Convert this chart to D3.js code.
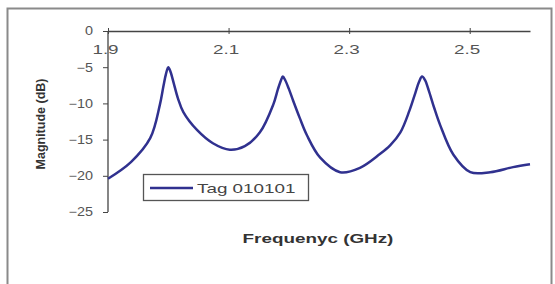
<!DOCTYPE html>
<html>
<head>
<meta charset="utf-8">
<script src="https://cdn.jsdelivr.net/npm/d3@7"></script>
<style>
  body { margin: 0; background: #fff; }
  svg { display: block; font-family: "Liberation Sans", Arial, sans-serif; }
</style>
</head>
<body>
<script>
const width = 555;
const height = 284;

// Data
const freq = [1.9, 1.938, 1.970, 1.986, 1.992, 1.996, 2.0, 2.004, 2.009, 2.016, 2.025, 2.048, 2.074, 2.102, 2.127,
  2.152, 2.174, 2.182, 2.187, 2.19, 2.194, 2.200, 2.207, 2.218, 2.230, 2.252, 2.285, 2.318, 2.351, 2.368, 2.385,
  2.400, 2.410, 2.416, 2.421, 2.426, 2.432, 2.441, 2.451, 2.473, 2.501, 2.534, 2.572, 2.6];
const magnitude = [-20.4, -18.1, -14.8, -10.2, -7.6, -6.0, -5.0, -5.7, -7.2, -9.3, -11.2, -13.7, -15.5, -16.4, -15.9,
  -14.0, -10.2, -8.0, -6.8, -6.3, -6.8, -8.0, -9.6, -12.0, -14.4, -17.5, -19.5, -18.9, -17.0, -15.8, -14.0,
  -11.0, -8.5, -7.0, -6.3, -6.8, -8.2, -10.6, -13.0, -17.1, -19.5, -19.5, -18.8, -18.4];
const xTicks = [1.9, 2.1, 2.3, 2.5];
const yTicks = [0, -5, -10, -15, -20, -25];
const seriesName = "Tag 010101";

const data = freq.map((f, i) => ({ f, v: magnitude[i] }));

// the source image is stretched sideways, so horizontal text is widened
const stretch = 1.45;

const x = d3.scaleLinear([1.9, 2.6], [108, 530]);
const y = d3.scaleLinear([0, -25], [31, 212]);

const svg = d3.select("body").append("svg")
  .attr("width", width)
  .attr("height", height)
  .attr("viewBox", [0, 0, width, height]);

// Outer frame
svg.append("rect")
  .attr("x", 7.5).attr("y", 8.5)
  .attr("width", 544).attr("height", 290)
  .attr("fill", "none")
  .attr("stroke", "#8a8a8a")
  .attr("stroke-width", 2);

// Y axis
svg.append("g")
  .attr("transform", `translate(${x(1.9)},0)`)
  .call(d3.axisLeft(y).tickValues(yTicks).tickSize(5).tickFormat(d3.format("d")))
  .call(g => g.select(".domain").attr("stroke", "#444").attr("stroke-width", 1.3).attr("d", `M0,${y(0)}V${y(-25)}`))
  .call(g => g.selectAll(".tick line").attr("stroke", "#444"))
  .call(g => g.selectAll(".tick text")
    .attr("x", 0)
    .attr("transform", "translate(-15,0) scale(1.2,1)")
    .attr("fill", "#555")
    .attr("font-size", 12));

// X axis crosses at 0 dB, labels beneath
svg.append("g")
  .attr("transform", `translate(0,${y(0)})`)
  .call(d3.axisBottom(x).tickValues(xTicks).tickSize(3).tickPadding(11).tickSizeOuter(0).tickFormat(d3.format(".1f")))
  .call(g => g.select(".domain").attr("stroke", "#444").attr("stroke-width", 1.3))
  .call(g => g.selectAll(".tick line").attr("stroke", "#444").attr("y1", -3))
  .call(g => g.selectAll(".tick text")
    .attr("transform", `translate(-3,0) scale(${stretch},1)`)
    .attr("fill", "#555")
    .attr("font-size", 13));

// Series line
const line = d3.line()
  .x(d => x(d.f))
  .y(d => y(d.v))
  .curve(d3.curveCatmullRom.alpha(0.5));

svg.append("path")
  .attr("fill", "none")
  .attr("stroke", "#30318f")
  .attr("stroke-width", 2.5)
  .attr("stroke-linejoin", "round")
  .attr("d", line(data));

// Legend
const legend = svg.append("g").attr("transform", "translate(143,174)");
legend.append("rect")
  .attr("x", 0.5).attr("y", 0.5)
  .attr("width", 165).attr("height", 26)
  .attr("fill", "#fff")
  .attr("stroke", "#555")
  .attr("stroke-width", 1.3);
legend.append("line")
  .attr("x1", 7).attr("x2", 50)
  .attr("y1", 14).attr("y2", 14)
  .attr("stroke", "#30318f")
  .attr("stroke-width", 2.5);
legend.append("text")
  .attr("transform", `translate(54,18.5) scale(${stretch},1)`)
  .attr("fill", "#444")
  .attr("font-size", 13)
  .text(seriesName);

// Axis titles
svg.append("text")
  .attr("transform", `translate(318,243) scale(${stretch},1)`)
  .attr("text-anchor", "middle")
  .attr("font-size", 13)
  .attr("font-weight", "bold")
  .attr("fill", "#333")
  .text("Frequenyc (GHz)");

svg.append("text")
  .attr("transform", "translate(45,124) rotate(-90)")
  .attr("text-anchor", "middle")
  .attr("font-size", 12.5)
  .attr("font-weight", "bold")
  .attr("fill", "#333")
  .text("Magnitude (dB)");
</script>
</body>
</html>
